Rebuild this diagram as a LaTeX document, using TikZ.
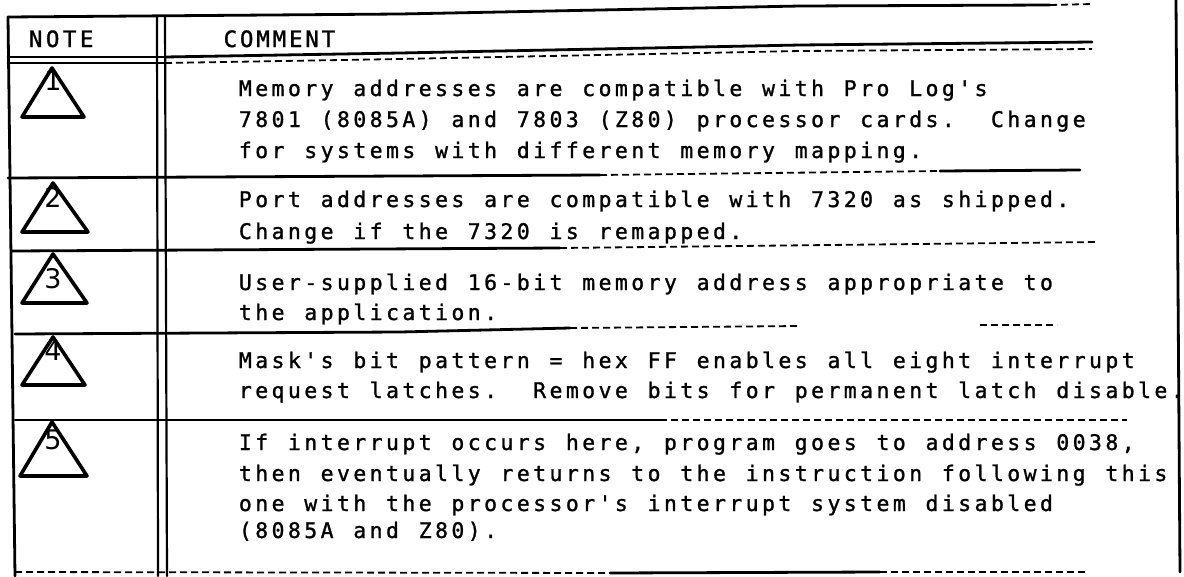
\documentclass[tikz,border=0pt]{standalone}
\usepackage{fontspec}
\newfontfamily\monofont{DejaVu Sans Mono}[FakeBold=1.2]
\newfontfamily\numfont{DejaVu Sans}
\ExplSyntaxOn
\NewDocumentCommand\mline{O{16.35pt}m}{
  \str_map_inline:nn {#2}
    { \str_if_eq:nnTF {##1} {|} { \makebox[#1]{} } { \makebox[#1][c]{##1} } }
}
\ExplSyntaxOff
\tikzset{
  rule/.style={line width=2.8pt, line cap=round, line join=round},
  faint/.style={line width=1.8pt, dash pattern=on 7pt off 4pt},
  tri/.style={line width=3.6pt, line join=round, line cap=round},
  num/.style={font=\numfont\fontsize{27pt}{30pt}\selectfont, inner sep=0pt},
  cmt/.style={anchor=base west, inner sep=0pt, font=\monofont\fontsize{21.5pt}{25pt}\selectfont},
  hdr/.style={anchor=base west, inner sep=0pt, font=\monofont\fontsize{22.5pt}{25pt}\selectfont}
}
\begin{document}
\begin{tikzpicture}[x=1pt,y=-1pt]
\useasboundingbox (0,0) rectangle (1184,576);
% ---- horizontal rules
\draw[rule] (8,17) -- (400,14) -- (800,6) -- (1050,5);
\draw[faint] (1050,5) -- (1092,4);
\draw[rule] (8,57) -- (165,57);
\draw[rule] (8,63) -- (165,63);
\draw[rule] (165,57) -- (400,53) -- (800,45) -- (1092,42);
\draw[faint] (165,63) -- (400,59) -- (800,51) -- (1092,49);
\draw[rule] (8,178) -- (600,175);
\draw[faint] (600,175) -- (940,171);
\draw[rule] (940,171) -- (1080,170);
\draw[rule] (12,251) -- (560,248);
\draw[faint] (560,248) -- (1097,242);
\draw[rule] (15,334) -- (400,332) -- (570,328);
\draw[faint] (570,328) -- (800,326);
\draw[faint] (980,325) -- (1057,325);
\draw[rule] (15,420) -- (660,420);
\draw[faint] (660,420) -- (1127,420);
\draw[faint] (15,572) -- (610,573);
\draw[rule] (610,573) -- (880,572);
\draw[faint] (880,572) -- (1087,572);
% ---- vertical rules
\draw[rule] (8,17) -- (15,576);
\draw[rule,line width=2.2pt] (157,17) -- (158,576);
\draw[rule,line width=2.2pt] (165,17) -- (167,576);
\draw[rule] (1176,0) -- (1180,572);
% ---- header
\node[hdr] (hnote) at (27,47) {\mline[17pt]{NOTE}};
\node[hdr] (hcomment) at (222,47) {\mline{COMMENT}};
% ---- triangles
\draw[tri] (52,68) -- (22,117) -- (84,117) -- cycle;
\draw[tri] (53,183) -- (22,232) -- (88,232) -- cycle;
\draw[tri] (53,254) -- (22,303) -- (87,303) -- cycle;
\draw[tri] (53,337) -- (22,385) -- (85,385) -- cycle;
\draw[tri] (52,422) -- (20,476) -- (87,476) -- cycle;
\node[num] (n1) at (53,81) {1};
\node[num] (n2) at (53,197) {2};
\node[num] (n3) at (53,279) {3};
\node[num] (n4) at (53,351) {4};
\node[num] (n5) at (53,440) {5};
% ---- comments
\node[cmt] (c1a) at (237,96) {\mline{Memory addresses are compatible with Pro Log's}};
\node[cmt] (c1b) at (237,127) {\mline{7801 (8085A) and 7803 (Z80) processor cards. |Change}};
\node[cmt] (c1c) at (237,158) {\mline{for systems with different memory mapping.}};
\node[cmt] (c2a) at (237,207) {\mline{Port addresses are compatible with 7320 as shipped.}};
\node[cmt] (c2b) at (237,239) {\mline{Change if the 7320 is remapped.}};
\node[cmt] (c3a) at (237,290) {\mline{User-supplied 16-bit memory address appropriate to}};
\node[cmt] (c3b) at (237,320) {\mline{the application.}};
\node[cmt] (c4a) at (237,368) {\mline{Mask's bit pattern = hex FF enables all eight interrupt}};
\node[cmt] (c4b) at (237,398) {\mline{request latches. |Remove bits for permanent latch disable.}};
\node[cmt] (c5a) at (237,450) {\mline{If interrupt occurs here, program goes to address 0038,}};
\node[cmt] (c5b) at (237,481) {\mline{then eventually returns to the instruction following this}};
\node[cmt] (c5c) at (237,511) {\mline{one with the processor's interrupt system disabled}};
\node[cmt] (c5d) at (237,538) {\mline{(8085A and Z80).}};
\end{tikzpicture}
\end{document}
